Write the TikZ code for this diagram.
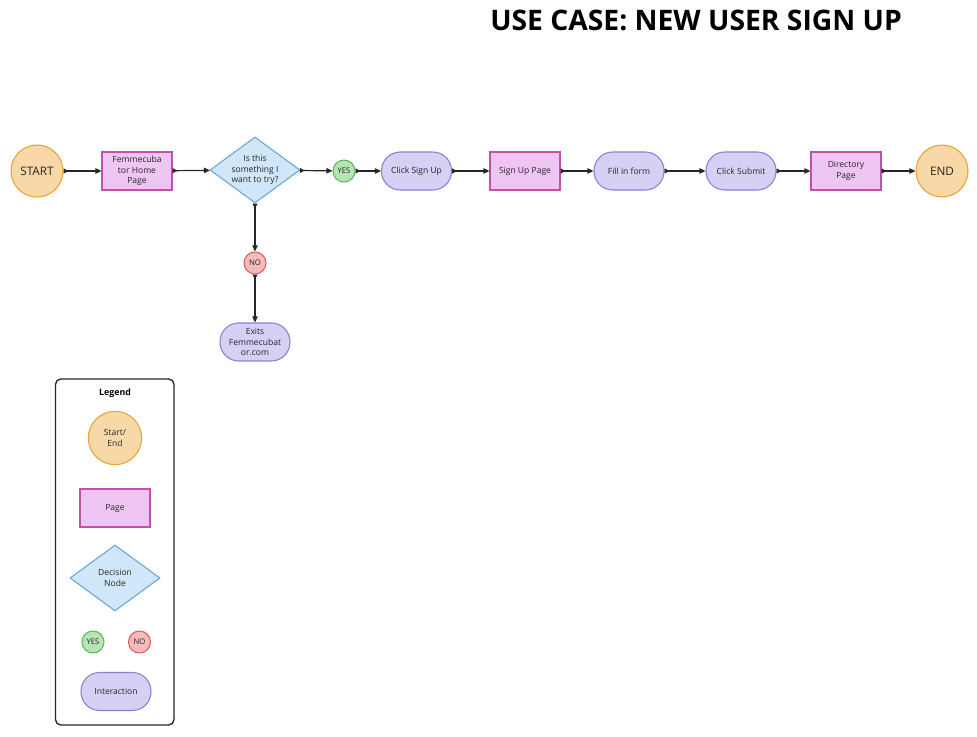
\documentclass[tikz,border=0pt]{standalone}
\usepackage{fontspec}
\setmainfont{Open Sans}
\usetikzlibrary{shapes.geometric,arrows.meta}
\definecolor{seFill}{HTML}{F9D8A8}
\definecolor{seDraw}{HTML}{E9A23B}
\definecolor{pgFill}{HTML}{EFC6F3}
\definecolor{pgDraw}{HTML}{C451A8}
\definecolor{dcFill}{HTML}{CFE7F8}
\definecolor{dcDraw}{HTML}{6AA6D4}
\definecolor{ysFill}{HTML}{B7E4B2}
\definecolor{ysDraw}{HTML}{5DB65D}
\definecolor{noFill}{HTML}{F6BABA}
\definecolor{noDraw}{HTML}{D65E5E}
\definecolor{inFill}{HTML}{D7CFF4}
\definecolor{inDraw}{HTML}{8D7FD3}
\tikzset{
  txt/.style={align=center, font=\fontsize{6.4}{8}\selectfont, text=black!85},
  base/.style={txt, line width=0.8pt, inner sep=1pt},
  startend/.style={base, circle, draw=seDraw, fill=seFill, minimum size=39pt, font=\fontsize{8.8}{11}\selectfont},
  startendsm/.style={base, circle, draw=seDraw, fill=seFill, minimum size=40pt},
  pagebox/.style={base, rectangle, draw=pgDraw, fill=pgFill, minimum width=52.5pt, minimum height=28.5pt},
  decision/.style={base, diamond, draw=dcDraw, fill=dcFill, minimum width=67.5pt, minimum height=49.5pt, inner sep=-20pt},
  yesnode/.style={base, circle, draw=ysDraw, fill=ysFill, minimum size=16.5pt, inner sep=0pt, font=\fontsize{5.8}{7}\selectfont},
  nonode/.style={base, circle, draw=noDraw, fill=noFill, minimum size=16.5pt, inner sep=0pt, font=\fontsize{5.8}{7}\selectfont},
  interact/.style={base, rectangle, rounded corners=14pt, draw=inDraw, fill=inFill, minimum width=52.5pt, minimum height=28.5pt},
  flow/.style={line width=0.9pt, black!85, {Triangle[reversed,length=3.5pt,width=3.8pt]}-{Triangle[length=4.5pt,width=4pt]}},
  legendbox/.style={draw=black!85, line width=1pt, rounded corners=4pt, fill=white}
}
\begin{document}
\begin{tikzpicture}[x=0.75pt,y=-0.75pt]
\useasboundingbox (0,0) rectangle (977,737);
\fill[white] (0,0) rectangle (977,737);
\node[font=\fontsize{21.2}{24}\bfseries\selectfont, anchor=center] (title) at (696,20) {USE CASE: NEW USER SIGN UP};

\node[startend] (start) at (37,171) {START};
\node[pagebox] (home) at (137,171) {Femmecuba\\tor Home\\Page};
\node[decision] (dec) at (255,170) {};
\node[txt] (dectext) at (dec.center) {Is this\\something I\\want to try?};
\node[yesnode] (yes) at (344,171) {YES};
\node[interact] (click) at (416.5,171) {Click Sign Up};
\node[pagebox] (signup) at (525,171) {Sign Up Page};
\node[interact] (fill) at (629,171) {Fill in form};
\node[interact] (submit) at (741,171) {Click Submit};
\node[pagebox] (dir) at (846,171) {Directory\\Page};
\node[startend] (end) at (942,171) {END};
\node[nonode] (no) at (255,263) {NO};
\node[interact] (exits) at (255,342) {Exits\\Femmecubat\\or.com};

\draw[flow] (start) -- (home);
\draw[flow] (home) -- (dec);
\draw[flow] (dec) -- (yes);
\draw[flow] (yes) -- (click);
\draw[flow] (click) -- (signup);
\draw[flow] (signup) -- (fill);
\draw[flow] (fill) -- (submit);
\draw[flow] (submit) -- (dir);
\draw[flow] (dir) -- (end);
\draw[flow] (dec) -- (no);
\draw[flow] (no) -- (exits);

\draw[legendbox] (55.5,379) rectangle (174,725);
\node[font=\fontsize{6.6}{8}\bfseries\selectfont] (legtitle) at (115,393) {Legend};
\node[startendsm] (lse) at (115,438) {Start/\\End};
\node[pagebox] (lpage) at (115,508) {Page};
\node[decision] (ldec) at (115,578) {};
\node[txt] (ldectext) at (ldec.center) {Decision\\Node};
\node[yesnode] (lyes) at (93,642) {YES};
\node[nonode] (lno) at (139.5,642) {NO};
\node[interact] (lint) at (116,691.5) {Interaction};
\end{tikzpicture}
\end{document}
